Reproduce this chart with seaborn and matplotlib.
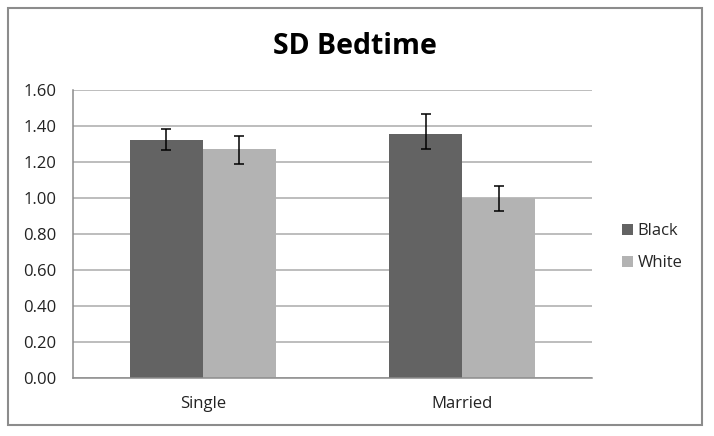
import matplotlib
matplotlib.use("Agg")
import matplotlib.pyplot as plt
import numpy as np
import pandas as pd
import seaborn as sns
from matplotlib.patches import Rectangle

# data
groups = ["Single", "Married"]
races = ["Black", "White"]
black_vals = [1.322, 1.354]
white_vals = [1.274, 1.002]
black_err_hi = [0.061, 0.113]
black_err_lo = [0.057, 0.080]
white_err_hi = [0.072, 0.067]
white_err_lo = [0.087, 0.072]
yticks = [0.0, 0.2, 0.4, 0.6, 0.8, 1.0, 1.2, 1.4, 1.6]

df = pd.DataFrame({
    "group": groups * 2,
    "race": ["Black"] * 2 + ["White"] * 2,
    "value": black_vals + white_vals,
})
errs = {"Black": (black_err_lo, black_err_hi), "White": (white_err_lo, white_err_hi)}

sns.set_style("white")
plt.rcParams["font.family"] = ["Open Sans", "DejaVu Sans"]

fig = plt.figure(figsize=(7.14, 4.36), dpi=100)
ax = fig.add_axes([73 / 714, 1 - 378 / 436, 519 / 714, 288 / 436])

palette = {"Black": "#636363", "White": "#b3b3b3"}
sns.barplot(data=df, x="group", y="value", hue="race", order=groups,
            hue_order=races, palette=palette, width=0.563, gap=0,
            saturation=1, ax=ax, zorder=2, linewidth=0)

# error bars on top of each bar
for cont, race in zip(ax.containers, races):
    xs = [p.get_x() + p.get_width() / 2 for p in cont.patches]
    hs = [p.get_height() for p in cont.patches]
    lo, hi = errs[race]
    ax.errorbar(xs, hs, yerr=[lo, hi], fmt="none", ecolor="black",
                elinewidth=1.1, capsize=3.6, capthick=1.1, zorder=3)

ax.set_ylim(0, 1.6)
ax.set_xlim(-0.5, 1.5)
ax.set_yticks(yticks)
ax.set_yticklabels([f"{t:.2f}" for t in yticks])
ax.yaxis.grid(True, color="#ababab", linewidth=1.1, zorder=0)
ax.set_axisbelow(True)
ax.set_xlabel("")
ax.set_ylabel("")
ax.tick_params(axis="both", length=0, labelsize=12, colors="#222222")
ax.tick_params(axis="y", pad=12)
ax.tick_params(axis="x", pad=13)
for s in ["top", "right"]:
    ax.spines[s].set_visible(False)
for s in ["left", "bottom"]:
    ax.spines[s].set_color("#8c8c8c")
    ax.spines[s].set_linewidth(1.1)

handles, labels = ax.get_legend_handles_labels()
ax.get_legend().remove()
fig.legend(handles, labels, loc="center left", bbox_to_anchor=(622 / 714, 1 - 247 / 436),
           frameon=False, fontsize=12, handlelength=0.65, handleheight=0.65,
           handletextpad=0.3, labelspacing=0.95, borderpad=0, borderaxespad=0)

fig.text(355 / 714, 1 - 47 / 436, "SD Bedtime", ha="center", va="center",
         fontsize=20.5, fontweight="bold", color="black")

# outer chart border
fig.patches.append(Rectangle((8 / 714, 1 - 425 / 436), 694 / 714, 417 / 436,
                             transform=fig.transFigure, fill=False,
                             edgecolor="#8c8c8c", linewidth=1.5))

fig.savefig("out.png", dpi=100)
